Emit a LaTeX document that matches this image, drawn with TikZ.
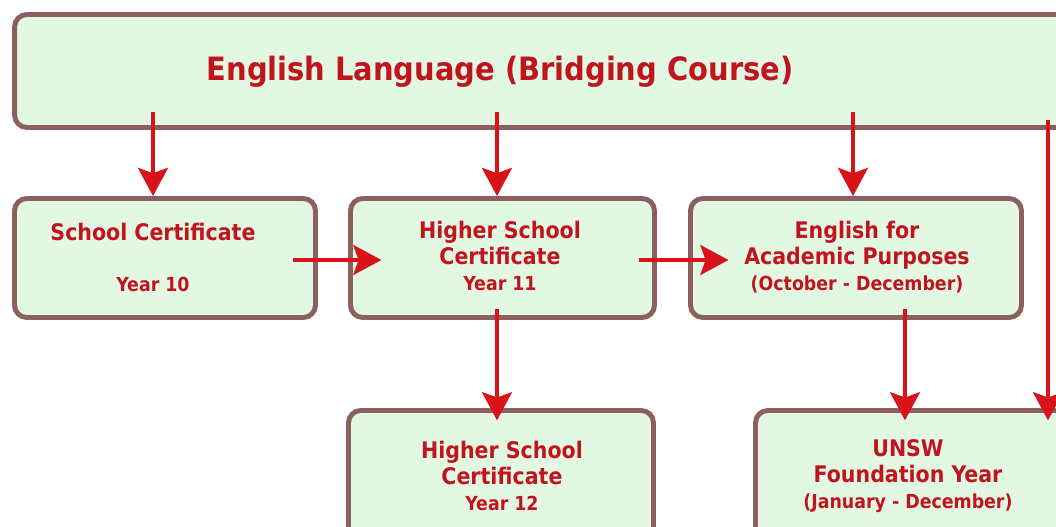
\documentclass[tikz,border=0pt]{standalone}
\usepackage{fontspec}
\setmainfont{DejaVu Sans Condensed}
\usetikzlibrary{arrows.meta}
\definecolor{boxline}{HTML}{8E5F5F}
\definecolor{boxfill}{HTML}{E2F8E2}
\definecolor{txtred}{HTML}{C0141E}
\definecolor{arrred}{HTML}{D8141A}
\newcommand{\bigline}{\fontsize{13}{15}\selectfont}
\begin{document}
\begin{tikzpicture}[x=0.02cm,y=-0.02cm,
    box/.style={draw=boxline,fill=boxfill,line width=2.8pt,rounded corners=7pt,inner sep=0pt},
    lbl/.style={text=txtred,font=\bfseries\fontsize{11}{15}\selectfont,align=center},
    arr/.style={draw=arrred,line width=2.3pt,-{Stealth[width=17pt,length=16pt,inset=3pt]}}]
  \useasboundingbox (0,0) rectangle (1056,527);
  \clip (0,0) rectangle (1056,527);
  \node[box,minimum width=21.16cm,minimum height=2.26cm] (lang) at (543.5,71) {};
  \node[box,minimum width=6.02cm,minimum height=2.38cm] (sc) at (165,258) {};
  \node[box,minimum width=6.08cm,minimum height=2.38cm] (hsc) at (502.5,258) {};
  \node[box,minimum width=6.62cm,minimum height=2.38cm] (eap) at (856,258) {};
  \node[box,minimum width=6.1cm,minimum height=2.64cm] (hsctwo) at (501,476.5) {};
  \node[box,minimum width=6.34cm,minimum height=2.64cm] (unsw) at (914,476.5) {};
  \node[lbl,font=\bfseries\fontsize{18.3}{22}\selectfont] (title) at (500,72) {English Language (Bridging Course)};
  \node[lbl] (sctxt) at (153,257) {{\bigline School Certificate}\\[14pt] Year 10};
  \node[lbl] (hsctxt) at (500,256) {{\bigline Higher School}\\ {\bigline Certificate}\\ Year 11};
  \node[lbl] (eaptxt) at (857,257) {{\bigline English for}\\ {\bigline Academic Purposes}\\ (October - December)};
  \node[lbl] (hsctwotxt) at (502,476) {{\bigline Higher School}\\ {\bigline Certificate}\\ Year 12};
  \node[lbl] (unswtxt) at (908,476) {{\bigline UNSW}\\ {\bigline Foundation Year}\\ (January - December)};
  \coordinate (rt) at (1048,120);
  \draw[arr,shorten <=-10pt] (lang.south -| 153,0) -- (153,0 |- sc.north);
  \draw[arr,shorten <=-10pt] (lang.south -| 497,0) -- (497,0 |- hsc.north);
  \draw[arr,shorten <=-10pt] (lang.south -| 853,0) -- (853,0 |- eap.north);
  \draw[arr,shorten >=-7pt] (rt) -- (rt |- unsw.north);
  \draw[arr,shorten <=-14pt,shorten >=-19pt] (sc.east |- 0,260) -- (hsc.west |- 0,260);
  \draw[arr,shorten <=-10pt,shorten >=-23pt] (hsc.east |- 0,260) -- (eap.west |- 0,260);
  \draw[arr,shorten <=-6pt,shorten >=-7pt] (hsc.south -| 497,0) -- (497,0 |- hsctwo.north);
  \draw[arr,shorten <=-6pt,shorten >=-7pt] (eap.south -| 905,0) -- (905,0 |- unsw.north);
\end{tikzpicture}
\end{document}
